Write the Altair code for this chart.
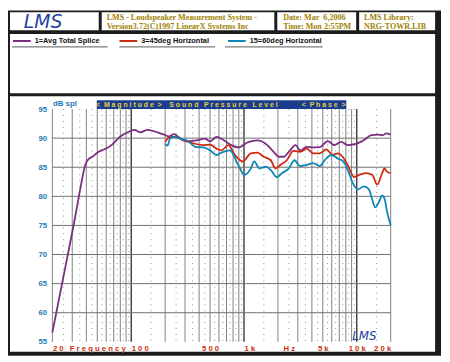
import altair as alt
import pandas as pd

# ---------------- data ----------------
series_names = ["1=Avg Total Splice", "3=45deg Horizontal", "15=60deg Horizontal"]
series_colors = ["#7b2d80", "#d0280f", "#0a86b8"]

f_avg = [20, 25, 31.6, 36, 39, 41, 46, 50, 58, 67, 72, 79, 93, 107, 121, 139, 171, 202, 215,
         240, 263, 291, 333, 380, 450, 500, 571, 630, 773, 888, 1090, 1315, 1610, 1840, 2040,
         2260, 2500, 2870, 3150, 3600, 4100, 4700, 5540, 6300, 7300, 8300, 9800, 11400, 13500,
         15400, 17000, 18200, 20000]
db_avg = [56.6, 66.1, 76.1, 82.1, 85.3, 86.2, 86.9, 87.5, 88.1, 88.8, 89.4, 90.2, 91.0, 91.4,
          91.0, 91.4, 91.0, 90.5, 90.3, 90.7, 90.2, 89.6, 89.5, 89.6, 89.9, 89.45, 90.2, 89.9,
          88.8, 88.4, 89.3, 89.6, 88.8, 87.6, 86.8, 86.8, 87.65, 88.8, 87.9, 88.5, 88.4, 88.45,
          89.5, 88.8, 89.35, 88.8, 89.0, 89.6, 90.5, 90.6, 90.5, 90.8, 90.6]

f_45 = [200, 222, 246, 291, 356, 436, 500, 571, 631, 725, 830, 980, 1150, 1315, 1500, 1730,
        1900, 2100, 2400, 2740, 3150, 3600, 4100, 4700, 5370, 6140, 6800, 7500, 8300, 9500,
        10500, 12000, 13700, 15200, 16800, 17600, 18500, 20000]
db_45 = [89.35, 90.2, 90.2, 89.6, 89.1, 88.8, 88.9, 88.2, 87.9, 88.8, 87.1, 86.0, 87.4, 87.5,
         86.8, 86.2, 84.8, 85.4, 86.2, 87.8, 87.65, 88.2, 87.4, 87.4, 88.05, 87.1, 87.4, 86.8,
         85.4, 83.3, 83.7, 84.0, 83.7, 82.0, 84.0, 84.8, 84.25, 84.0]

f_60 = [200, 210, 222, 246, 270, 313, 370, 436, 500, 571, 631, 750, 888, 1010, 1150, 1230,
        1370, 1560, 1730, 1950, 2180, 2500, 2800, 3150, 3600, 4100, 4700, 5200, 5940, 6800,
        7600, 8300, 9200, 10200, 11600, 12800, 13700, 14600, 15600, 16800, 17700, 18500, 20000]
db_60 = [89.0, 88.7, 90.0, 90.2, 89.9, 89.6, 88.5, 88.4, 87.9, 87.1, 87.5, 87.9, 85.4, 83.7,
         84.8, 86.0, 84.8, 85.1, 84.5, 83.3, 84.0, 84.8, 86.2, 85.2, 85.4, 85.7, 85.2, 86.2,
         87.1, 86.5, 86.0, 84.6, 82.3, 81.2, 81.7, 81.2, 79.5, 78.1, 78.9, 80.1, 79.5, 77.5, 75.0]

y_ticks = [55, 60, 65, 70, 75, 80, 85, 90, 95]
x_label_vals = [20, 50, 100, 500, 1000, 2500, 5000, 10000, 20000]
x_label_text = ["2 0", "F r e q u e n c y", "1 0 0", "5 0 0", "1 k", "H z", "5 k", "1 0 k", "2 0 k"]

grid_major = [m * d for d in (10, 100, 1000) for m in range(2, 10)] + [20000]
grid_decade = [100, 1000, 10000]
grid_minor = [int(m * d + d / 2) for d in (10, 100, 1000) for m in range(2, 10)] + \
             [150, 1500, 15000]
grid_h = [60, 65, 70, 75, 80, 85, 90]

# ---------------- tables ----------------
rows = []
for name, fs, ds in zip(series_names, [f_avg, f_45, f_60], [db_avg, db_45, db_60]):
    for f, d in zip(fs, ds):
        rows.append({"series": name, "f": f, "db": d})
curves = pd.DataFrame(rows)

one = alt.Data(values=[{"k": 1}])
PX, PY = 53, 108  # page position of plot origin

xs = alt.Scale(type="log", domain=[20, 20000], nice=False)
ys = alt.Scale(domain=[55, 95], nice=False, zero=False)


def box(x1, y1, x2, y2, color):
    return alt.Chart(one).mark_rect(color=color).encode(
        x=alt.value(x1 - PX), x2=alt.value(x2 - PX),
        y=alt.value(y1 - PY), y2=alt.value(y2 - PY))


def hline(x1, x2, y, color, w=1):
    return alt.Chart(one).mark_rule(color=color, strokeWidth=w).encode(
        x=alt.value(x1 - PX), x2=alt.value(x2 - PX), y=alt.value(y - PY))


def txt(x, y, text, size, color, font="Liberation Sans", weight="bold",
        align="left", baseline="alphabetic", style="normal"):
    return alt.Chart(one).mark_text(
        text=text, fontSize=size, color=color, font=font, fontWeight=weight,
        align=align, baseline=baseline, fontStyle=style).encode(
        x=alt.value(x - PX), y=alt.value(y - PY))


vals_js = ",".join(str(v) for v in x_label_vals)
txt_js = ",".join("'" + t + "'" for t in x_label_text)
label_expr = f"[{txt_js}][indexof([{vals_js}], datum.value)]"

x_axis = alt.Axis(
    values=x_label_vals, labelExpr=label_expr, ticks=False, domain=False, grid=False,
    labelColor="#c8300c", labelFont="Liberation Sans", labelFontWeight="bold",
    labelFontSize=7.8, labelPadding=3, title=None, labelOverlap=False, labelFlush=False,
    zindex=2,
    labelAlign={"condition": [
        {"test": "datum.value == 20 || datum.value == 100 || datum.value == 1000", "value": "left"},
        {"test": "datum.value == 20000", "value": "right"}], "value": "center"})

y_axis = alt.Axis(
    values=y_ticks, ticks=False, domain=False, grid=False, labelFlush=False, zindex=2,
    labelColor="#1a7ab8", labelFont="Liberation Sans", labelFontWeight="bold",
    labelFontSize=7.8, labelPadding=6,
    title="dB spl", titleAngle=0, titleX=0, titleY=-2, titleAlign="left",
    titleBaseline="bottom", titleColor="#1a7ab8", titleFont="Liberation Sans",
    titleFontSize=8, titleFontWeight="bold")

FRAME = "#1c1c1c"
GOLD = "#9e8200"
HF = 8.2
layers = [
    box(8, 8, 447, 358, FRAME),
    box(10, 10, 100, 28, "white"),
    box(103, 10, 278, 28, "white"),
    box(281, 10, 361, 28, "white"),
    box(364, 10, 441, 28, "white"),
    box(10, 32, 441, 92, "white"),
    box(10, 95, 441, 354, "white"),
    # header texts
    txt(24, 26, "LMS", 19, "#1d3f9e", font="DejaVu Sans", weight="normal", style="italic"),
    txt(108, 17.5, "LMS - Loudspeaker Measurement System -", HF, GOLD, font="Liberation Serif"),
    txt(108, 27, "Version3.72(C)1997 LinearX Systems Inc", HF, GOLD, font="Liberation Serif"),
    txt(287, 17.5, "Date: Mar\u00a0 6,2006", HF, GOLD, font="Liberation Serif"),
    txt(287, 27, "Time: Mon 2:55PM", HF, GOLD, font="Liberation Serif"),
    txt(369, 17.5, "LMS Library:", HF, GOLD, font="Liberation Serif"),
    txt(369, 27, "NRG-TOWR.LIB", HF, GOLD, font="Liberation Serif"),
    # legend underlines
    hline(12, 109, 45, "#555"),
    hline(121, 218, 45, "#555"),
    hline(228, 327, 45, "#555"),
    # title bar
    box(98, 99, 351, 108, "#1b3d8f"),
    txt(130.5, 104, "< \u00a0M a g n i t u d e\u00a0 >", 7, "#e6d13c", align="center", baseline="middle"),
    txt(226.5, 104, "S o u n d\u00a0\u00a0 P r e s s u r e\u00a0\u00a0 L e v e l", 7, "#e6d13c",
        align="center", baseline="middle"),
    txt(328, 104, "< \u00a0P h a s e\u00a0 >", 7, "#e6d13c", align="center", baseline="middle"),
    # bottom-right logo
    txt(357, 342, "LMS", 12, "#1d3f9e", font="DejaVu Sans", weight="normal", style="italic"),
]

minor = alt.Chart(pd.DataFrame({"f": grid_minor})).mark_rule(
    color="#8f8f8f", strokeWidth=1, strokeDash=[1, 5]).encode(
    x=alt.X("f:Q", scale=xs, axis=x_axis))
major = alt.Chart(pd.DataFrame({"f": grid_major})).mark_rule(
    color="#808080", strokeWidth=1).encode(x=alt.X("f:Q", scale=xs, axis=x_axis))
decade = alt.Chart(pd.DataFrame({"f": grid_decade})).mark_rule(
    color="#2a2a2a", strokeWidth=1.3).encode(x=alt.X("f:Q", scale=xs, axis=x_axis))
hgrid = alt.Chart(pd.DataFrame({"v": grid_h})).mark_rule(
    color="#707070", strokeWidth=1).encode(y=alt.Y("v:Q", scale=ys, axis=y_axis))

lines = alt.Chart(curves).mark_line(strokeWidth=1.8, interpolate="monotone").encode(
    x=alt.X("f:Q", scale=xs, axis=x_axis),
    y=alt.Y("db:Q", scale=ys, axis=y_axis),
    color=alt.Color("series:N", scale=alt.Scale(domain=series_names, range=series_colors),
                    legend=alt.Legend(
                        orient="none", legendX=-41, legendY=-79, direction="horizontal",
                        title=None, symbolType="stroke", symbolSize=324, symbolStrokeWidth=2,
                        labelFont="Liberation Sans", labelFontWeight="bold", labelFontSize=7.5,
                        labelColor="#111", columnPadding=15, labelOffset=3, padding=0,
                        labelLimit=200)),
    order=alt.Order("f:Q"),
)

chart = alt.layer(*layers, minor, major, decade, hgrid, lines).properties(
    width=343, height=236,
    padding={"left": 45, "top": 100, "right": 52, "bottom": 16},
    autosize=alt.AutoSizeParams(type="none"),
    background="white",
).configure_view(stroke="#222", strokeWidth=1)

chart.save("out.html", embed_options={"renderer": "svg", "actions": False})
